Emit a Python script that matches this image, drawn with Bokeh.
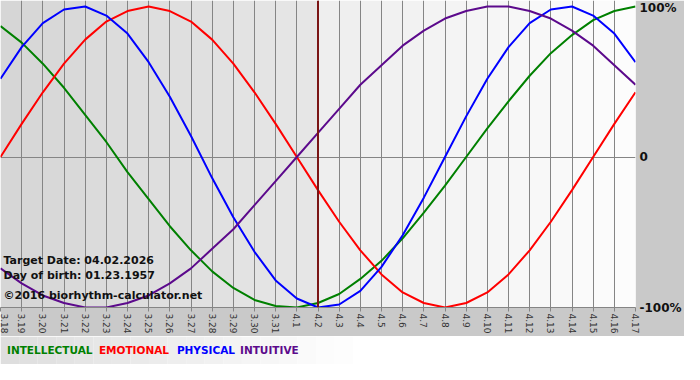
import math
from bokeh.plotting import figure
from bokeh.models import Range1d, FixedTicker, Label, ColumnDataSource, Span
from bokeh.layouts import column
from bokeh.embed import file_html
from bokeh.resources import INLINE
from bokeh.core.properties import value

# ---------------- data ----------------
day_labels = ["3.18", "3.19", "3.20", "3.21", "3.22", "3.23", "3.24", "3.25", "3.26",
              "3.27", "3.28", "3.29", "3.30", "3.31", "4.1", "4.2", "4.3", "4.4", "4.5",
              "4.6", "4.7", "4.8", "4.9", "4.10", "4.11", "4.12", "4.13", "4.14", "4.15",
              "4.16", "4.17"]
intellectual = [0.87, 0.76, 0.62, 0.46, 0.28, 0.10, -0.10, -0.28, -0.46, -0.62, -0.76,
                -0.87, -0.95, -0.99, -1.00, -0.97, -0.91, -0.81, -0.69, -0.54, -0.37,
                -0.19, 0.00, 0.19, 0.37, 0.54, 0.69, 0.81, 0.91, 0.97, 1.00]
emotional = [0.00, 0.22, 0.43, 0.62, 0.78, 0.90, 0.97, 1.00, 0.97, 0.90, 0.78, 0.62,
             0.43, 0.22, 0.00, -0.22, -0.43, -0.62, -0.78, -0.90, -0.97, -1.00, -0.97,
             -0.90, -0.78, -0.62, -0.43, -0.22, 0.00, 0.22, 0.43]
physical = [0.52, 0.73, 0.89, 0.98, 1.00, 0.94, 0.82, 0.63, 0.40, 0.14, -0.14, -0.40,
            -0.63, -0.82, -0.94, -1.00, -0.98, -0.89, -0.73, -0.52, -0.27, 0.00, 0.27,
            0.52, 0.73, 0.89, 0.98, 1.00, 0.94, 0.82, 0.63]
intuitive = [-0.74, -0.84, -0.92, -0.97, -1.00, -1.00, -0.97, -0.92, -0.84, -0.74,
             -0.61, -0.48, -0.32, -0.16, 0.00, 0.16, 0.32, 0.48, 0.61, 0.74, 0.84, 0.92,
             0.97, 1.00, 1.00, 0.97, 0.92, 0.84, 0.74, 0.61, 0.48]
target_index = 15
y_ticks = [-1, 0, 1]
y_tick_labels = ["-100%", "0", "100%"]
legend_names = ["INTELLECTUAL", "EMOTIONAL", "PHYSICAL", "INTUITIVE"]
info_lines = ["Target Date: 04.02.2026", "Day of birth: 01.23.1957",
              "\u00a92016 biorhythm-calculator.net"]

# ---------------- styles ----------------
colors = ["#008000", "#ff0000", "#0000ff", "#5c0a8c"]
FONT = "DejaVu Sans"
W = 684
Y0, Y1 = -1.0, 1.04

days = list(range(len(day_labels)))

p = figure(width=W, height=336, output_backend="svg", toolbar_location=None,
           x_range=Range1d(days[0], days[-1]), y_range=Range1d(Y0, Y1),
           y_axis_location="right",
           min_border_left=0, min_border_top=0, min_border_right=46,
           min_border_bottom=24)
p.outline_line_color = None
p.border_fill_color = "#c9c9c9"
p.background_fill_color = "#ffffff"

def mix(c1, c2, t):
    return "#%02x%02x%02x" % tuple(int(round(a + (b - a) * t)) for a, b in zip(c1, c2))

# background gradient strips (darker before target date, lighter after)
strip_colors = []
n = len(days) - 1
for i in range(n):
    if i < target_index:
        strip_colors.append(mix((214, 214, 214), (230, 230, 230), i / max(1, target_index - 1)))
    else:
        strip_colors.append(mix((238, 238, 238), (252, 252, 252), (i - target_index) / max(1, n - target_index - 1)))
p.quad(left=days[:-1], right=days[1:], bottom=Y0, top=Y1, fill_color=strip_colors,
       line_color=None, level="image")

# grid
p.xgrid.ticker = FixedTicker(ticks=days)
p.xgrid.grid_line_color = "#858585"
p.xgrid.grid_line_width = 1
p.ygrid.ticker = FixedTicker(ticks=[-1, 0])
p.ygrid.grid_line_color = "#858585"
p.ygrid.grid_line_width = 1

# x axis
p.xaxis.ticker = FixedTicker(ticks=days)
p.xaxis.major_label_overrides = {d: lab for d, lab in zip(days, day_labels)}
p.xaxis.major_label_orientation = -math.pi / 2
p.xaxis.major_label_text_font = FONT
p.xaxis.major_label_text_font_size = "9px"
p.xaxis.major_label_text_color = "#333333"
p.xaxis.major_label_standoff = 2
p.xaxis.major_tick_out = 4
p.xaxis.major_tick_in = 0
p.xaxis.minor_tick_line_color = None
p.xaxis.major_tick_line_color = "#858585"
p.xaxis.axis_line_color = "#858585"

# y axis (right)
p.yaxis.ticker = FixedTicker(ticks=y_ticks)
p.yaxis.major_label_overrides = {t: lab for t, lab in zip(y_ticks, y_tick_labels)}
p.yaxis.major_label_text_font = FONT
p.yaxis.major_label_text_font_size = "12px"
p.yaxis.major_label_text_font_style = "bold"
p.yaxis.major_label_text_color = "#111111"
p.yaxis.major_label_standoff = 4
p.yaxis.major_tick_out = 0
p.yaxis.major_tick_in = 0
p.yaxis.major_tick_line_color = None
p.yaxis.minor_tick_line_color = None
p.yaxis.axis_line_color = None

# target date line
p.add_layout(Span(location=days[target_index], dimension="height",
                  line_color="#7a1515", line_width=2))

# curves
for series, col in zip([intellectual, emotional, physical, intuitive], colors):
    p.line(days, series, line_color=col, line_width=2)

# info texts
for txt, yv in zip(info_lines, [-0.69, -0.79, -0.92]):
    p.add_layout(Label(x=days[0], y=yv, x_offset=3, text=txt, text_font=FONT,
                       text_font_size="11px", text_font_style="bold",
                       text_color="#111111", text_baseline="middle"))

# legend strip
lg = figure(width=W, height=28, output_backend="svg", toolbar_location=None,
            x_range=Range1d(0, W), y_range=Range1d(0, 28),
            min_border=0, x_axis_type=None, y_axis_type=None)
lg.outline_line_color = None
lg.grid.visible = False
lg.background_fill_color = "#ffffff"
lg.border_fill_color = "#ffffff"
edges = list(range(0, 420, 20))
lg_cols = [mix((222, 222, 222), (255, 255, 255), i / (len(edges) - 2)) for i in range(len(edges) - 1)]
lg.quad(left=edges[:-1], right=edges[1:], bottom=0, top=28, fill_color=lg_cols, line_color=None)
legend_x = [7, 106, 190, 258]
src = ColumnDataSource(dict(x=legend_x, y=[15] * 4, t=legend_names, c=colors))
lg.text(x="x", y="y", text="t", text_color="c", source=src,
        text_font=value(FONT), text_font_size="10.5px", text_font_style="bold",
        text_baseline="middle")

layout = column(p, lg, spacing=0)
open("out.html", "w").write(file_html(layout, INLINE))
